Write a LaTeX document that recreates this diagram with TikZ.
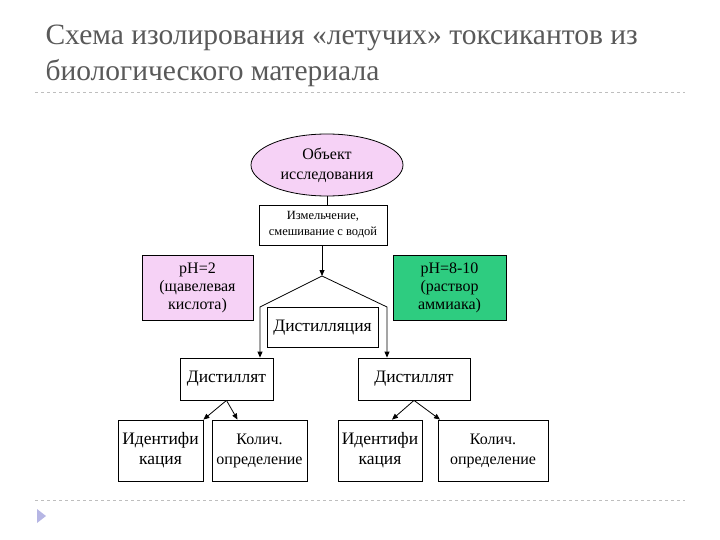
\documentclass[tikz,border=0pt]{standalone}
\usepackage{fontspec}
\setmainfont{Liberation Serif}
\usetikzlibrary{shapes.geometric,arrows.meta}
\definecolor{titlegray}{RGB}{89,89,89}
\definecolor{pinkfill}{RGB}{246,210,246}
\definecolor{greenfill}{RGB}{46,204,128}
\definecolor{rulegray}{RGB}{190,190,190}
\begin{document}
\begin{tikzpicture}[x=1pt,y=-1pt,
  box/.style={draw,thick,align=center,inner sep=0pt,font=\fontsize{16}{18}\selectfont},
  arr/.style={thick,-{Triangle[length=6pt,width=5pt]}}]
\useasboundingbox (0,0) rectangle (720,540);
% title
\node[anchor=west,text=titlegray,font=\fontsize{29.5}{33}\selectfont] (title1) at (42,38) {Схема изолирования «летучих» токсикантов из};
\node[anchor=west,text=titlegray,font=\fontsize{29.5}{33}\selectfont] (title2) at (42,73) {биологического материала};
\draw[rulegray,dashed] (35,92) -- (685,92);
\draw[rulegray,dashed] (35,500) -- (685,500);
\fill[rulegray!70!blue!60] (37,509) -- (46,516) -- (37,523) -- cycle;
% nodes
\node[draw,thick,ellipse,fill=pinkfill,minimum width=152pt,minimum height=62pt,align=center,font=\fontsize{16}{20}\selectfont] (obj) at (327,165) {Объект\\исследования};
\node[box,minimum width=128pt,minimum height=40pt,font=\fontsize{12.5}{16}\selectfont] (grind) at (323,225) {Измельчение,\\смешивание с водой};
\node[box,fill=pinkfill,minimum width=111pt,minimum height=65pt] (acid) at (197.5,287.5) {pH=2\\(щавелевая\\кислота)};
\node[box,fill=greenfill,minimum width=113pt,minimum height=65pt] (base) at (449.5,287.5) {pH=8-10\\(раствор\\аммиака)};
\node[box,minimum width=111pt,minimum height=40pt,font=\fontsize{17.5}{20}\selectfont] (dist) at (322.5,327.5) {Дистилляция};
\coordinate (apex) at (322,276);
\coordinate (kneeL) at (260,307);
\coordinate (kneeR) at (387,307);
\node[box,minimum width=93pt,minimum height=42pt,font=\fontsize{17.5}{20}\selectfont] (distL) at (226.5,379) {Дистиллят};
\node[box,minimum width=112pt,minimum height=42pt,font=\fontsize{17.5}{20}\selectfont] (distR) at (414,379) {Дистиллят};
\node[box,minimum width=85pt,minimum height=61pt,font=\fontsize{17.5}{20}\selectfont] (idL) at (160.5,450.5) {Идентифи\\кация};
\node[box,minimum width=95pt,minimum height=61pt,font=\fontsize{16}{20}\selectfont] (qtL) at (259.5,450.5) {Колич.\\определение};
\node[box,minimum width=84pt,minimum height=61pt,font=\fontsize{17.5}{20}\selectfont] (idR) at (380,450.5) {Идентифи\\кация};
\node[box,minimum width=110pt,minimum height=61pt,font=\fontsize{16}{20}\selectfont] (qtR) at (493,450.5) {Колич.\\определение};
% connectors
\draw[thick] (obj.south) -- (obj.south |- grind.north);
\draw[arr] (grind.south -| apex) -- (apex);
\draw[arr] (apex) -- (kneeL) -- (kneeL |- distL.north);
\draw[arr] (apex) -- (kneeR) -- (kneeR |- distL.north);
\draw[arr] (distL.south) -- (idL.north east);
\draw[arr] (distL.south) -- ([xshift=-22pt]qtL.north);
\draw[arr] (distR.south) -- ([xshift=12pt]idR.north);
\draw[arr] (distR.south) -- ([xshift=-53pt]qtR.north);
\end{tikzpicture}
\end{document}
